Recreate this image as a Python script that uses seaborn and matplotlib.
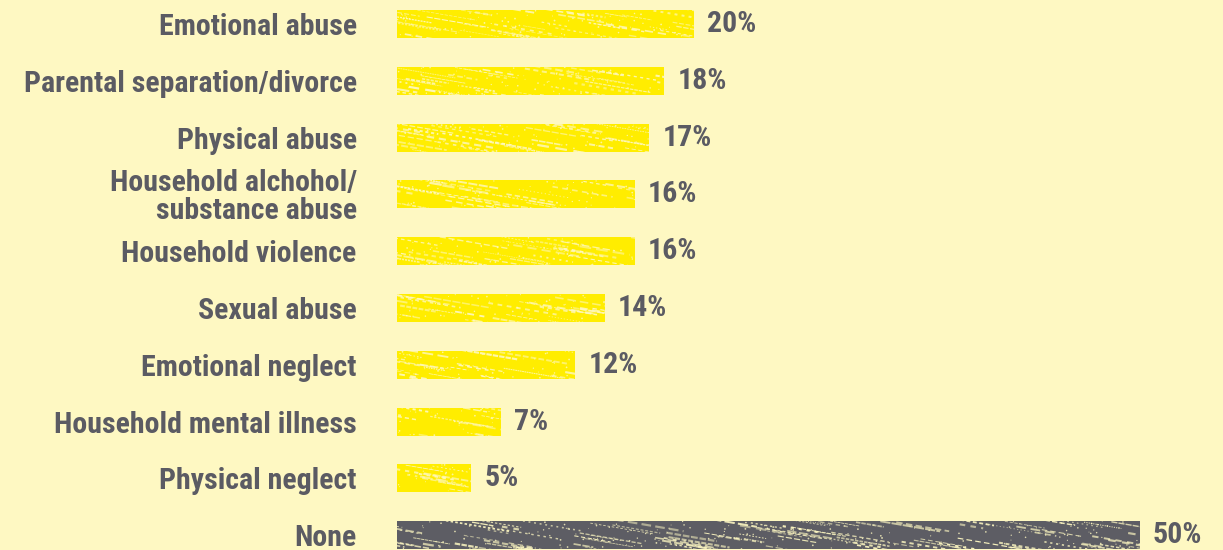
import numpy as np
import pandas as pd
import matplotlib
matplotlib.use("Agg")
import matplotlib.pyplot as plt
import seaborn as sns

# Adverse childhood experiences reported (% of respondents)
categories = [
    "Emotional abuse",
    "Parental separation/divorce",
    "Physical abuse",
    "Household alchohol/\nsubstance abuse",
    "Household violence",
    "Sexual abuse",
    "Emotional neglect",
    "Household mental illness",
    "Physical neglect",
    "None",
]
values = [20, 18, 17, 16, 16, 14, 12, 7, 5, 50]
groups = ["ace"] * 9 + ["none"]

BG = "#FEF8C2"
YELLOW = "#FFED00"
GREY = "#5D5D64"
TEXT = "#5B5B63"
FS = 21.5

df = pd.DataFrame({"category": categories, "value": values, "group": groups})

sns.set_theme(style="white")
plt.rcParams["font.family"] = ["Roboto Condensed", "Archivo Narrow",
                               "Asap Condensed", "DejaVu Sans"]

fig = plt.figure(figsize=(12.23, 5.5), dpi=100, facecolor=BG)
ax = fig.add_axes([397 / 1223, 0, 826 / 1223, 1])
ax.set_facecolor(BG)

sns.barplot(
    data=df, y="category", x="value", hue="group",
    palette={"ace": YELLOW, "none": GREY},
    orient="h", width=0.49, dodge=False, legend=False,
    saturation=1, ax=ax, linewidth=0,
)

px_per_unit = 14.85
ax.set_xlim(0, 826 / px_per_unit)
row_px = 56.8
ax.set_ylim((550 - 24) / row_px, -24 / row_px)

for s in ax.spines.values():
    s.set_visible(False)
ax.set_xticks([])
ax.set_xlabel("")
ax.set_ylabel("")
ax.tick_params(axis="y", length=0, pad=29)
for lab in ax.get_yticklabels():
    lab.set_fontsize(FS)
    lab.set_fontweight("bold")
    lab.set_color(TEXT)
    lab.set_linespacing(1.0)
    lab.set_multialignment("right")

# Chalky streak texture over each bar
rng = np.random.default_rng(11)
dx_unit = 1 / px_per_unit
dy_unit = 1 / row_px
for patch in ax.patches:
    x0, y0 = patch.get_x(), patch.get_y()
    w, h = patch.get_width(), patch.get_height()
    if w <= 0:
        continue
    n = int(w * px_per_unit / 7)
    for _ in range(n):
        length = rng.uniform(15, 70)
        sx = x0 + rng.uniform(-3, w)
        sy = y0 + rng.uniform(-0.1, 1.0) * h
        ex = sx + length * dx_unit
        ey = sy + length * 0.17 * dy_unit
        line, = ax.plot(
            [sx, ex], [sy, ey], color=BG, lw=rng.uniform(0.5, 1.6),
            alpha=rng.uniform(0.5, 0.95), solid_capstyle="butt",
            linestyle=(0, (rng.uniform(1, 6), rng.uniform(0.5, 3))),
        )
        line.set_clip_path(patch)
    # scattered chalk specks
    m = int(w * px_per_unit / 4)
    xs = x0 + rng.uniform(0, w, m)
    ys = y0 + rng.uniform(0, h, m)
    sc = ax.scatter(xs, ys, s=rng.uniform(0.3, 1.8, m), color=BG,
                    alpha=0.8, linewidths=0, zorder=3)
    sc.set_clip_path(patch)

# Value labels
for i, v in enumerate(values):
    ax.text(v + 13 / px_per_unit, i, f"{v}%", va="center", ha="left",
            fontsize=FS, fontweight="bold", color=TEXT)

fig.savefig("out.png", dpi=100, facecolor=BG)
